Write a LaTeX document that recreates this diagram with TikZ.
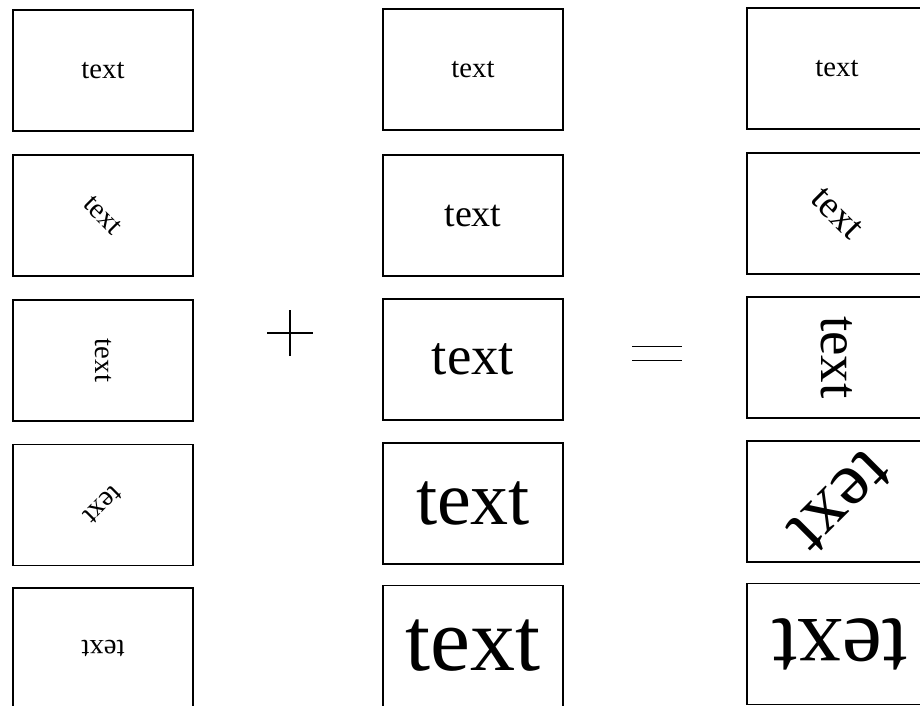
\documentclass[tikz,border=0pt]{standalone}
\usepackage{fontspec}
\usepackage{graphicx}
\setmainfont{Liberation Serif}
\begin{document}
\begin{tikzpicture}[x=1pt,y=-1pt,
  boxnode/.style={draw=black,line width=1.9pt,minimum width=180pt,minimum height=121pt,inner sep=0pt,outer sep=0pt,font=\fontsize{#1}{#1}\selectfont},
  boxnode/.default=28.7,
  sign/.style={line width=1.7pt}]
\fill[white] (0,0) rectangle (920,705);
\useasboundingbox (0,0) rectangle (920,705);
\clip (0,0) rectangle (920,705);
% left column: rotation
\node[boxnode] (L1) at (103,70.5) {text};
\node[boxnode] (L2) at (103,215.5) {\rotatebox{-45}{text}};
\node[boxnode] (L3) at (103,360.5) {\rotatebox{-90}{text}};
\node[boxnode] (L4) at (103,505) {\rotatebox{-135}{text}};
\node[boxnode] (L5) at (103,648.5) {\rotatebox{180}{text}};
% middle column: scaling
\node[boxnode] (M1) at (473,69.5) {text};
\node[boxnode=38] (M2) at (473,215.5) {text};
\node[boxnode=55] (M3) at (473,359.5) {text};
\node[boxnode=76] (M4) at (473,503.5) {text};
\node[boxnode=90] (M5) at (473,646) {text};
% right column: rotation and scaling
\node[boxnode] (R1) at (837,68.5) {text};
\node[boxnode=38] (R2) at (837,213.5) {\rotatebox{-45}{text}};
\node[boxnode=55] (R3) at (837,357.5) {\rotatebox{-90}{text}};
\node[boxnode=76] (R4) at (837,501.5) {\hspace*{6pt}\rotatebox{-135}{text}};
\node[boxnode=90] (R5) at (837,644) {\hspace*{6pt}\rotatebox{180}{text}};
% plus sign
\coordinate (P) at (290,333);
\draw[sign] ([yshift=-23pt]P) -- ([yshift=23pt]P);
\draw[sign] ([xshift=-23pt]P) -- ([xshift=23pt]P);
% equals sign
\coordinate (E) at (657,353.5);
\draw[sign] ([xshift=-25pt,yshift=7pt]E) -- ([xshift=25pt,yshift=7pt]E);
\draw[sign] ([xshift=-25pt,yshift=-7pt]E) -- ([xshift=25pt,yshift=-7pt]E);
\end{tikzpicture}
\end{document}
